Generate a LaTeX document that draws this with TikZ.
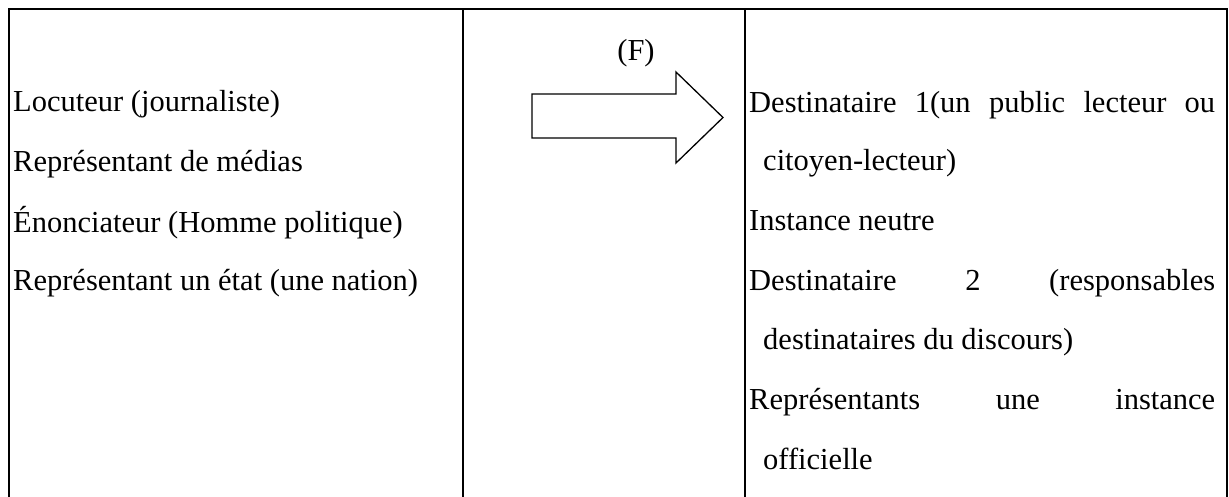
\documentclass[tikz,border=0pt]{standalone}
\usepackage{fontspec}
\setmainfont{Liberation Serif}
\begin{document}
\begin{tikzpicture}[x=1pt,y=-1pt,
  rule/.style={line width=2.5pt, line cap=rect},
  txt/.style={anchor=base west, inner sep=0pt, font=\fontsize{30.5}{36}\selectfont},
  bigarrow/.style={draw=black, line width=1.3pt, fill=white, line join=miter},
]
\useasboundingbox (0,0) rectangle (1229,496);
\fill[white] (0,0) rectangle (1229,496);

% table frame (continues below the visible part)
\coordinate (tl) at (9,9);
\coordinate (tr) at (1227,9);
\coordinate (bl) at (9,496);
\coordinate (br) at (1227,496);
\coordinate (c1t) at (463,9);
\coordinate (c1b) at (463,496);
\coordinate (c2t) at (745,9);
\coordinate (c2b) at (745,496);
\draw[rule] (bl) -- (tl) -- (tr) -- (br);
\draw[rule] (c1t) -- (c1b);
\draw[rule] (c2t) -- (c2b);

% left column
\node[txt] (l1) at (13,111) {Locuteur (journaliste)};
\node[txt] (l2) at (13,171) {Représentant de médias};
\node[txt] (l3) at (13,232) {Énonciateur (Homme politique)};
\node[txt] (l4) at (13,290) {Représentant un état (une nation)};

% middle column: block arrow labelled (F)
\node[txt, anchor=base] (f) at (636,60) {(F)};
\draw[bigarrow] (532,94) -- (676,94) -- (676,72) -- (723,117.5) -- (676,163)
  -- (676,138) -- (532,138) -- cycle;

% right column
\node[txt] (r1) at (749,112) {\makebox[466pt][s]{Destinataire 1(un public lecteur ou}};
\node[txt] (r2) at (763,170) {citoyen-lecteur)};
\node[txt] (r3) at (749,230) {Instance neutre};
\node[txt] (r4) at (749,290) {\makebox[466pt][s]{Destinataire 2 (responsables}};
\node[txt] (r5) at (763,349) {destinataires du discours)};
\node[txt] (r6) at (749,409) {\makebox[466pt][s]{Représentants une instance}};
\node[txt] (r7) at (763,469) {officielle};
\end{tikzpicture}
\end{document}
